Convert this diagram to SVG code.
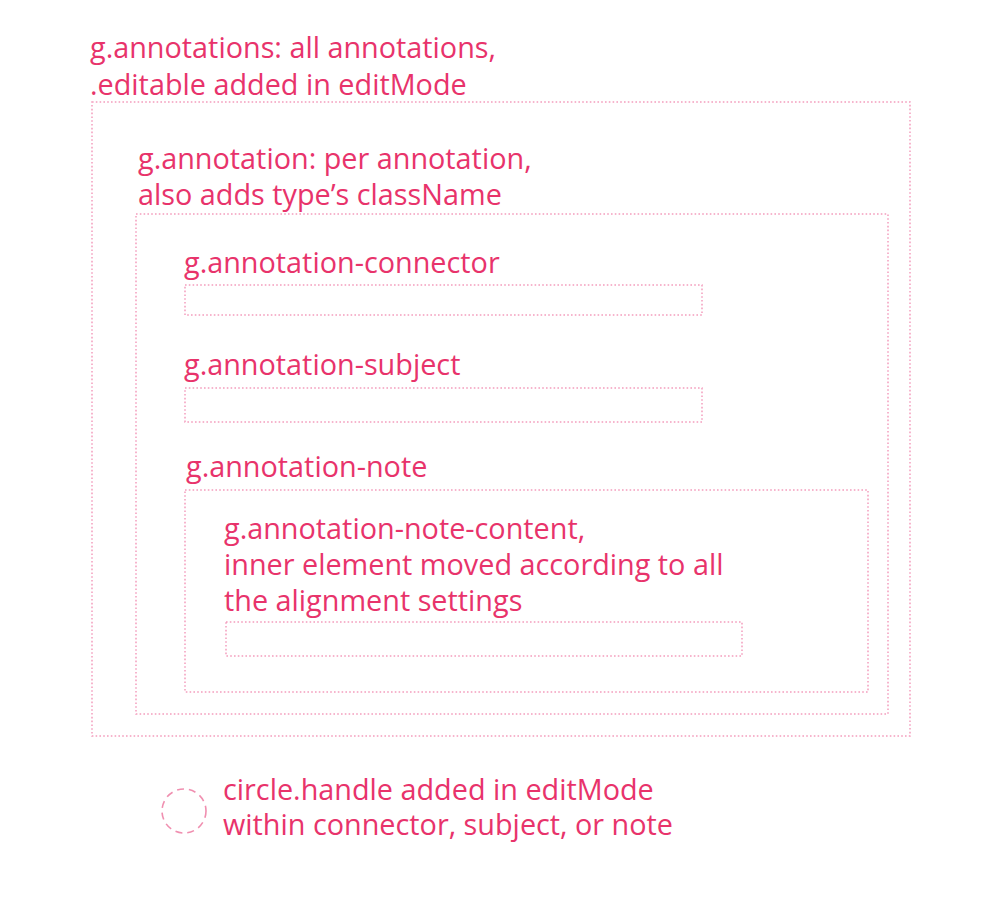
<svg xmlns="http://www.w3.org/2000/svg" width="1001" height="897" viewBox="0 0 1001 897">
<style>
.box{fill:none;stroke:#f39dbd;stroke-width:1.5;stroke-dasharray:1.6 2.2}
.t{font-family:"Open Sans","Noto Sans",sans-serif;font-size:28.8px;fill:#e8336b}
.h{fill:none;stroke:#f08fb0;stroke-width:1.6;stroke-dasharray:7 5}
</style>
<rect width="1001" height="897" fill="#fff"/>
<g id="annotations">
<rect class="box" x="92" y="102" width="818" height="634"/>
<text class="t" x="90" y="58">g.annotations: all annotations,</text>
<text class="t" x="90" y="95">.editable added in editMode</text>
</g>
<g id="annotation">
<rect class="box" x="136" y="214" width="752" height="500"/>
<text class="t" x="138" y="169">g.annotation: per annotation,</text>
<text class="t" x="138" y="205">also adds type’s className</text>
</g>
<g id="annotation-connector">
<rect class="box" x="185" y="285" width="517" height="30"/>
<text class="t" x="184" y="273">g.annotation-connector</text>
</g>
<g id="annotation-subject">
<rect class="box" x="185" y="388" width="517" height="34"/>
<text class="t" x="184" y="375">g.annotation-subject</text>
</g>
<g id="annotation-note">
<rect class="box" x="185" y="490" width="683" height="202"/>
<text class="t" x="186" y="477">g.annotation-note</text>
</g>
<g id="annotation-note-content">
<rect class="box" x="226" y="622" width="516" height="34"/>
<text class="t" x="224" y="539">g.annotation-note-content,</text>
<text class="t" x="224" y="575">inner element moved according to all</text>
<text class="t" x="224" y="611">the alignment settings</text>
</g>
<g id="handle">
<circle class="h" cx="184" cy="811" r="22"/>
<text class="t" x="223" y="800">circle.handle added in editMode</text>
<text class="t" x="223" y="835">within connector, subject, or note</text>
</g>
<g id="connectors"></g>
</svg>
